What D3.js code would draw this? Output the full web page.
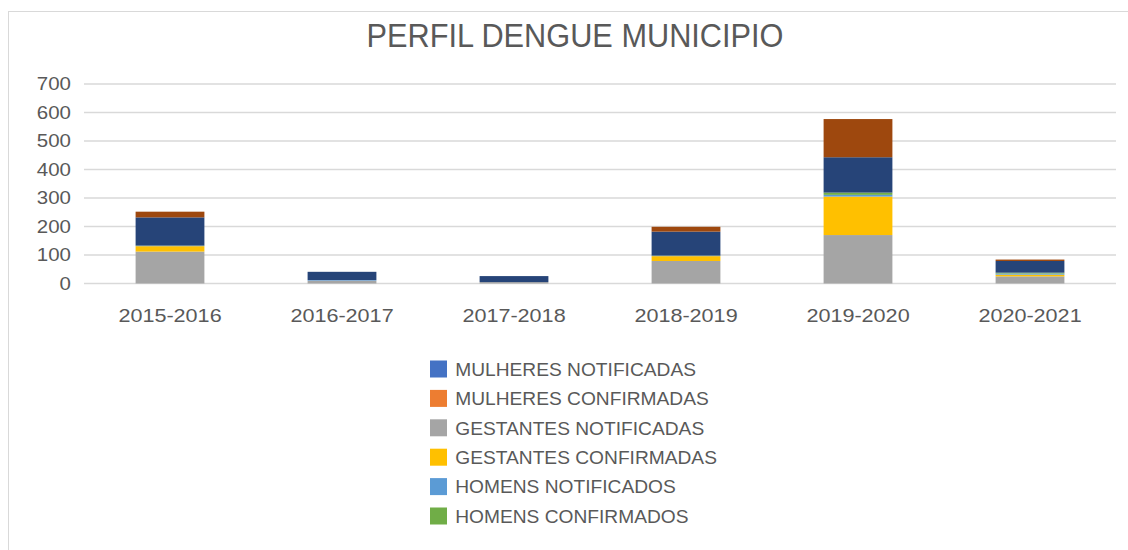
<!DOCTYPE html>
<html>
<head>
<meta charset="utf-8">
<script src="https://cdn.jsdelivr.net/npm/d3@7"></script>
<style>
  html, body { margin: 0; padding: 0; background: #fff; }
  svg { display: block; }
  text { font-family: "Liberation Sans", Arial, sans-serif; fill: #595959; }
</style>
</head>
<body>
<svg id="chart" width="1128" height="550"></svg>
<script>
// ---- data ----
const categories = ["2015-2016", "2016-2017", "2017-2018", "2018-2019", "2019-2020", "2020-2021"];
const seriesNames = [
  "MULHERES NOTIFICADAS", "MULHERES CONFIRMADAS",
  "GESTANTES NOTIFICADAS", "GESTANTES CONFIRMADAS",
  "HOMENS NOTIFICADOS", "HOMENS CONFIRMADOS",
  "SÉRIE 7", "SÉRIE 8"
];
const mulheresNotificadas  = [0, 0, 0, 0, 0, 0];
const mulheresConfirmadas  = [0, 0, 0, 0, 0, 0];
const gestantesNotificadas = [112, 10, 5, 79, 170, 25];
const gestantesConfirmadas = [19, 0, 0, 17, 135, 6];
const homensNotificados    = [1, 2, 0, 1, 6, 4];
const homensConfirmados    = [1, 0, 0, 1, 8, 3];
const serie7               = [99, 29, 21, 84, 124, 41];
const serie8               = [20, 0, 0, 17, 134, 5];
const yTicks = [0, 100, 200, 300, 400, 500, 600, 700];
const legendCount = 6;

const seriesValues = [mulheresNotificadas, mulheresConfirmadas, gestantesNotificadas,
  gestantesConfirmadas, homensNotificados, homensConfirmados, serie7, serie8];
const colors = ["#4472C4", "#ED7D31", "#A5A5A5", "#FFC000", "#5B9BD5", "#70AD47", "#264478", "#9E480E"];

// ---- build table ----
const table = categories.map((c, i) => {
  const row = { cat: c };
  seriesNames.forEach((s, j) => row[s] = seriesValues[j][i]);
  return row;
});
const stacked = d3.stack().keys(seriesNames)(table);

const svg = d3.select("#chart");

// chart border
svg.append("rect").attr("x", 8.5).attr("y", 11.5).attr("width", 1200).attr("height", 600)
  .attr("fill", "#fff").attr("stroke", "#d9d9d9").attr("stroke-width", 1);

const plot = { left: 84, right: 1116, top: 84, bottom: 283.5 };

const x = d3.scaleBand().domain(categories).range([plot.left, plot.right]).padding(0);
const y = d3.scaleLinear().domain([0, 700]).range([plot.bottom, plot.top]);
const color = d3.scaleOrdinal().domain(seriesNames).range(colors);

// title
svg.append("text").attr("x", 575).attr("y", 47)
  .attr("text-anchor", "middle").attr("font-size", 33)
  .attr("textLength", 417).attr("lengthAdjust", "spacingAndGlyphs")
  .text("PERFIL DENGUE MUNICIPIO");

// gridlines
svg.append("g").selectAll("line").data(yTicks).join("line")
  .attr("x1", plot.left).attr("x2", plot.right)
  .attr("y1", d => y(d)).attr("y2", d => y(d))
  .attr("stroke", "#d9d9d9").attr("stroke-width", 1.5);

// y axis labels
const yAxis = svg.append("g").attr("transform", `translate(${plot.left - 13},0)`)
  .call(d3.axisLeft(y).tickValues(yTicks).tickSize(0).tickPadding(0));
yAxis.select(".domain").remove();
yAxis.selectAll("text").attr("font-size", 17.5).attr("fill", "#595959")
  .attr("transform", "scale(1.17,1)")
  .style("font-family", "Liberation Sans, Arial, sans-serif");

// bars
const barW = x.bandwidth() / 2.5;
svg.append("g").selectAll("g").data(stacked).join("g")
  .attr("fill", d => color(d.key))
  .selectAll("rect").data(d => d).join("rect")
  .attr("x", d => x(d.data.cat) + (x.bandwidth() - barW) / 2)
  .attr("width", barW)
  .attr("y", d => y(d[1]))
  .attr("height", d => Math.max(0, y(d[0]) - y(d[1])));

// x axis labels
const xAxis = svg.append("g").attr("transform", `translate(0,${plot.bottom + 21})`)
  .call(d3.axisBottom(x).tickSize(0).tickPadding(0));
xAxis.select(".domain").remove();
xAxis.selectAll("text").attr("font-size", 18).attr("fill", "#595959")
  .attr("dy", "0.95em")
  .attr("transform", "scale(1.2,1)")
  .style("font-family", "Liberation Sans, Arial, sans-serif");

// legend
const legendItems = seriesNames.slice(0, legendCount);
const lg = svg.append("g").selectAll("g").data(legendItems).join("g")
  .attr("transform", (d, i) => `translate(430,${369 + i * 29.4})`);
lg.append("rect").attr("x", 0).attr("y", -8.5).attr("width", 17).attr("height", 17)
  .attr("fill", d => color(d));
lg.append("text").attr("x", 25).attr("y", 0).attr("dy", "0.36em")
  .attr("font-size", 19).attr("transform", "scale(1.01,1)").text(d => d);
</script>
</body>
</html>
